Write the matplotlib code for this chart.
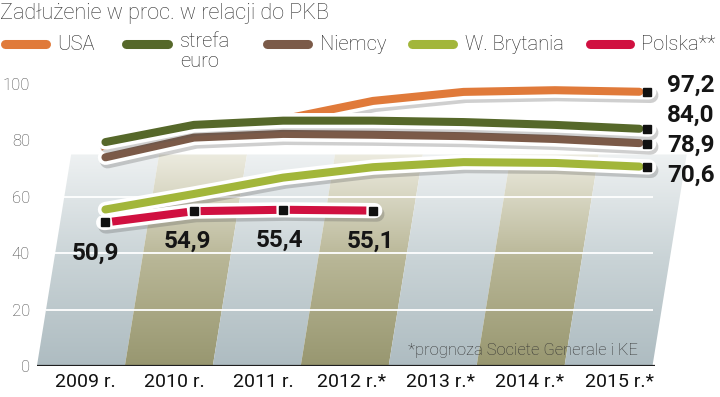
import numpy as np
import matplotlib
matplotlib.use('Agg')
import matplotlib.pyplot as plt
from matplotlib.patches import Polygon
from matplotlib.lines import Line2D
from matplotlib.colors import LinearSegmentedColormap
import matplotlib.patheffects as pe

# ---------------- data ----------------
years = ['2009 r.', '2010 r.', '2011 r.', '2012 r.*', '2013 r.*', '2014 r.*', '2015 r.*']
usa = [77.0, 84.0, 87.5, 94.0, 97.2, 97.8, 97.2]
euro = [79.4, 85.5, 87.0, 87.0, 86.5, 85.5, 84.0]
niemcy = [74.0, 81.0, 82.3, 82.0, 81.5, 80.5, 78.9]
uk = [55.5, 61.0, 66.8, 70.5, 72.3, 72.0, 70.6]
polska = [50.9, 54.9, 55.4, 55.1]
yticks = [0, 20, 40, 60, 80, 100]
names = ['USA', 'strefa\neuro', 'Niemcy', 'W. Brytania', 'Polska**']
colors = ['#e07a3a', '#56682a', '#7b5a48', '#a2b63a', '#d01040']

title = 'Zadłużenie w proc. w relacji do PKB'
footnote = '*prognoza Societe Generale i KE'

LIGHT = 'Roboto'
NARROW = ['Roboto', 'DejaVu Sans']

# ---------------- figure ----------------
W, H = 720, 397
fig = plt.figure(figsize=(7.2, 3.97), dpi=100)
ax = fig.add_axes([37 / W, 31 / H, 663 / W, 296.1 / H])
ax.set_facecolor('none')
for s in ax.spines.values():
    s.set_visible(False)

XMIN, XMAX = -0.539, 6.91
YMAX = 105

# ---------------- slanted background bands ----------------
slant = 0.005126          # index units per value unit
wall = 75
bounds = [-0.54 + 0.988 * k for k in range(8)]
light_cm = LinearSegmentedColormap.from_list('l', ['#aebcc1', '#c9d3d6', '#eef1f2'])
olive_cm = LinearSegmentedColormap.from_list('o', ['#989770', '#b8b696', '#ecebdf'])
grad = np.linspace(0, 1, 256).reshape(-1, 1)
for k in range(7):
    x0, x1 = bounds[k], bounds[k + 1]
    poly = Polygon([(x0, 0), (x1, 0), (x1 + slant * wall, wall), (x0 + slant * wall, wall)],
                   closed=True, facecolor='none', edgecolor='none', transform=ax.transData)
    ax.add_patch(poly)
    cm = light_cm if k % 2 == 0 else olive_cm
    im = ax.imshow(grad, extent=[x0, x1 + slant * wall, 0, wall], origin='lower',
                   aspect='auto', cmap=cm, zorder=0, interpolation='bilinear')
    im.set_clip_path(poly)

# white gridlines
for g in [20, 40, 60]:
    ax.plot([bounds[0] + slant * g, 6.382], [g, g], color='white', lw=1.3, zorder=1,
            solid_capstyle='butt')

# baseline
ax.plot([XMIN, 6.40], [0, 0], color='#1e1e1e', lw=1.6, zorder=2, solid_capstyle='butt')

# ---------------- lines ----------------
def xl(i):
    return 0.23 + 0.99 * i + 0.004 * i * i

shadow = [pe.SimpleLineShadow(offset=(1.5, -2.5), shadow_color='#555555', alpha=0.28),
          pe.Normal()]
OUT_LW = 11.0
IN_LW = 5.8
GAP = 0.085

def draw_series(vals, color, z):
    xs = np.array([xl(i) for i in range(len(vals))])
    ys = np.array(vals, dtype=float)
    xe = xs[-1] + 0.02
    ax.plot(np.r_[xs, xe], np.r_[ys, ys[-1]], color='white', lw=OUT_LW,
            solid_capstyle='round', solid_joinstyle='round', zorder=z, path_effects=shadow)
    t = GAP / (xs[-1] - xs[-2])
    yc = ys[-1] - t * (ys[-1] - ys[-2])
    ax.plot(np.r_[xs[:-1], xs[-1] - GAP], np.r_[ys[:-1], yc], color=color, lw=IN_LW,
            solid_capstyle='round', solid_joinstyle='round', zorder=z + 0.1)
    ax.plot([xs[-1]], [ys[-1]], marker='s', ms=5.5, color='#111111', zorder=z + 0.2,
            linestyle='none')

draw_series(usa, colors[0], 3)
draw_series(niemcy, colors[2], 4)
draw_series(euro, colors[1], 5)
draw_series(uk, colors[3], 6)

# Polska: segmented red line with black markers at every point
px = np.array([xl(i) for i in range(len(polska))])
py = np.array(polska, dtype=float)
ax.plot(np.r_[px[0] - 0.02, px, px[-1] + 0.02], np.r_[py[0], py, py[-1]], color='white',
        lw=OUT_LW, solid_capstyle='round', solid_joinstyle='round', zorder=7,
        path_effects=shadow)
for i in range(len(px) - 1):
    d = 0.075
    t0 = d / (px[i + 1] - px[i])
    xa, xb = px[i] + d, px[i + 1] - d
    ya = py[i] + t0 * (py[i + 1] - py[i])
    yb = py[i + 1] - t0 * (py[i + 1] - py[i])
    ax.plot([xa, xb], [ya, yb], color=colors[4], lw=IN_LW, solid_capstyle='butt', zorder=7.1)
ax.plot(px, py, marker='s', ms=5.5, color='#111111', linestyle='none', zorder=7.2)

# value labels for Polska
for i, v in enumerate(polska):
    ax.text(i + 0.12 + 0.03 * i, v - 10.8, f'{v:.1f}'.replace('.', ','), ha='center',
            va='center', fontsize=17.5, fontweight='bold', family=NARROW, color='#151515',
            zorder=9)

# end value labels
end_vals = [usa[-1], euro[-1], niemcy[-1], uk[-1]]
end_y = [99.6, 89.0, 78.4, 67.6]
for v, yy in zip(end_vals, end_y):
    ax.text(6.54, yy, f'{v:.1f}'.replace('.', ','), ha='left', va='center', fontsize=17.5,
            fontweight='bold', family=NARROW, color='#151515', clip_on=False, zorder=9)

# ---------------- axes ticks ----------------
ax.set_xlim(XMIN, XMAX)
ax.set_ylim(0, YMAX)
ax.set_yticks(yticks)
ax.set_yticklabels([str(t) for t in yticks], family=LIGHT, fontweight='light',
                   fontsize=12, color='#444444')
ax.set_xticks(range(len(years)))
ax.set_xticklabels(years, family=NARROW, fontsize=14, color='#111111')
ax.tick_params(axis='both', length=0)
ax.tick_params(axis='y', pad=5)
ax.tick_params(axis='x', pad=5)

# ---------------- title, legend, footnote ----------------
fig.text(0 / W, 1 - 13 / H, title, ha='left', va='center', family=LIGHT, fontweight='light',
         fontsize=15.6, color='#333333')

sw_x = [(4.5, 45.5), (126.5, 167.5), (266.5, 307.5), (411.5, 452.5), (589.5, 629.5)]
tx_x = [57, 180, 320, 465, 641]
ly = 1 - 44 / H
for (a, b), tx, name, c in zip(sw_x, tx_x, names, colors):
    fig.add_artist(Line2D([a / W, b / W], [ly, ly], transform=fig.transFigure, color=c,
                          lw=6.5, solid_capstyle='round'))
    if '\n' in name:
        fig.text(tx / W, 1 - 32 / H, name, ha='left', va='top', family=LIGHT,
                 fontweight='light', fontsize=14.5, color='#222222', linespacing=1.05)
    else:
        fig.text(tx / W, ly, name, ha='left', va='center', family=LIGHT, fontweight='light',
                 fontsize=14.5, color='#222222')

fig.text(408 / W, 1 - 351 / H, footnote, ha='left', va='center', family=LIGHT,
         fontweight='light', fontsize=12, color='#333333', zorder=10)

fig.savefig('out.png', dpi=100)
